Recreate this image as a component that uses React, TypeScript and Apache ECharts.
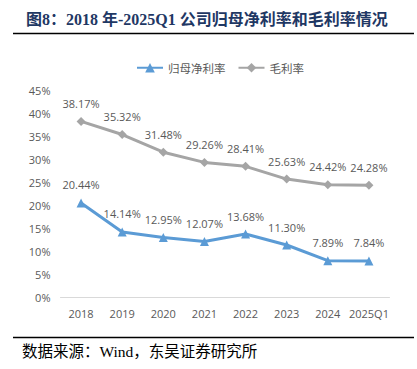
import React, { useEffect, useRef } from "react";
import * as echarts from "echarts";

const categories = ["2018", "2019", "2020", "2021", "2022", "2023", "2024", "2025Q1"];
const netMargin = [20.44, 14.14, 12.95, 12.07, 13.68, 11.3, 7.89, 7.84];
const grossMargin = [38.17, 35.32, 31.48, 29.26, 28.41, 25.63, 24.42, 24.28];
const yTicks = [0, 5, 10, 15, 20, 25, 30, 35, 40, 45];

export default function App() {
  const ref = useRef<HTMLDivElement>(null);
  useEffect(() => {
    if (!ref.current) return;
    const chart = echarts.init(ref.current, null, { renderer: "svg" });
    const labelFont = { fontFamily: "Open Sans, DejaVu Sans, sans-serif", fontSize: 11, color: "#595959" };
    chart.setOption({
      animation: false,
      backgroundColor: "#ffffff",
      title: {
        text: "图8：2018 年-2025Q1 公司归母净利率和毛利率情况",
        left: 21,
        top: 6,
        textStyle: {
          fontFamily: "Liberation Serif, Noto Sans CJK SC, serif",
          fontWeight: "bold",
          fontSize: 16,
          color: "#1f3864",
        },
      },
      graphic: [
        { type: "line", shape: { x1: 13, y1: 33.5, x2: 414, y2: 33.5 }, style: { stroke: "#000", lineWidth: 1.5 } },
        { type: "line", shape: { x1: 13, y1: 337.5, x2: 414, y2: 337.5 }, style: { stroke: "#000", lineWidth: 1.5 } },
        {
          type: "text",
          left: 22,
          top: 344,
          style: {
            text: "数据来源：Wind，东吴证券研究所",
            font: "15.5px 'Liberation Serif', 'Noto Sans CJK SC', serif",
            fill: "#000",
          },
        },
      ],
      legend: {
        top: 57,
        left: 131,
        itemWidth: 26,
        itemHeight: 12,
        itemGap: 12,
        textStyle: { fontFamily: "Noto Sans CJK SC, sans-serif", fontSize: 11.5, color: "#595959" },
        data: ["归母净利率", "毛利率"],
      },
      grid: { left: 60.5, right: 27.5, top: 90, bottom: 72, containLabel: false },
      xAxis: {
        type: "category",
        data: categories,
        boundaryGap: true,
        axisLine: { lineStyle: { color: "#d9d9d9" } },
        axisTick: { show: false },
        axisLabel: { ...labelFont, margin: 11, interval: 0 },
      },
      yAxis: {
        type: "value",
        min: yTicks[0],
        max: yTicks[yTicks.length - 1],
        interval: 5,
        splitLine: { show: false },
        axisLine: { show: false },
        axisTick: { show: false },
        axisLabel: { ...labelFont, margin: 10, formatter: (v: number) => v + "%" },
      },
      series: [
        {
          name: "归母净利率",
          type: "line",
          data: netMargin,
          symbol: "triangle",
          symbolSize: 9,
          itemStyle: { color: "#5b9bd5" },
          lineStyle: { color: "#5b9bd5", width: 3 },
          label: {
            show: true,
            position: "top",
            distance: 8,
            ...labelFont,
            formatter: (p: any) => p.value.toFixed(2) + "%",
          },
        },
        {
          name: "毛利率",
          type: "line",
          data: grossMargin,
          symbol: "diamond",
          symbolSize: 9,
          itemStyle: { color: "#a5a5a5" },
          lineStyle: { color: "#a5a5a5", width: 3 },
          label: {
            show: true,
            position: "top",
            distance: 8,
            ...labelFont,
            formatter: (p: any) => p.value.toFixed(2) + "%",
          },
        },
      ],
    });
    return () => chart.dispose();
  }, []);
  return <div ref={ref} style={{ position: "absolute", left: 0, top: 0, width: 417, height: 369 }} />;
}
